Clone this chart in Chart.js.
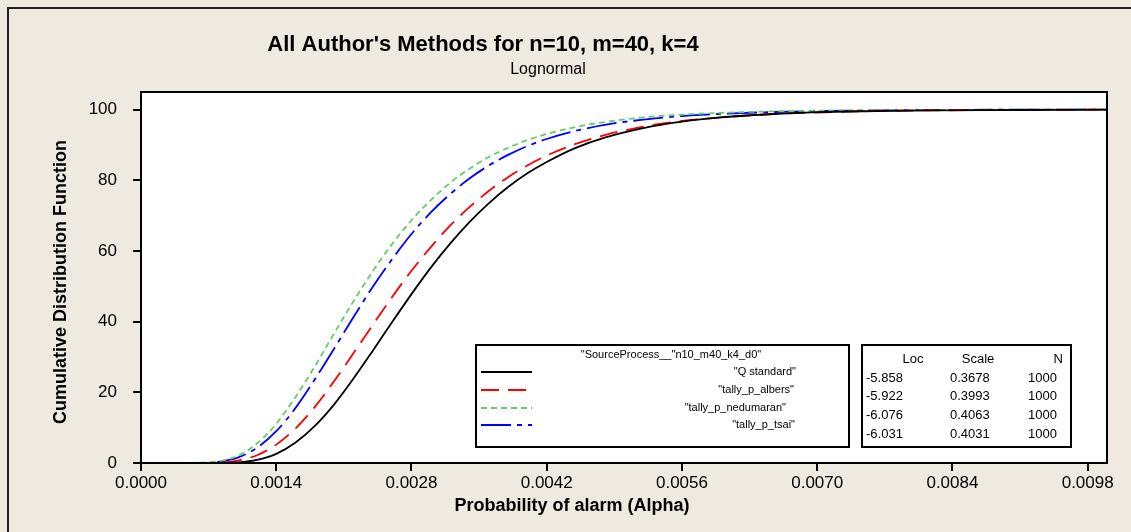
<!DOCTYPE html>
<html><head><meta charset="utf-8">
<script src="https://cdn.jsdelivr.net/npm/chart.js@4/dist/chart.umd.min.js"></script>
<style>html,body{margin:0;padding:0;background:#EEEAE0;overflow:hidden}canvas{display:block}</style>
</head><body>
<canvas id="c" width="1131" height="532"></canvas>
<script>
// ---- data ----
const alphaValues = [0.0003,0.0006,0.0008,0.0010,0.0012,0.0014,0.0016,0.0018,0.0020,0.0022,0.0024,0.0026,0.0028,0.0030,0.0032,0.0034,0.0036,0.0038,0.0040,0.0042,0.0045,0.0048,0.0052,0.0056,0.0060,0.0065,0.0070,0.0076,0.0082,0.0090,0.0100];
const qStandard   = [0,0,0,0.2,0.9,2.6,5.8,10.5,16.6,23.9,31.8,39.9,47.8,55.3,62.1,68.2,73.5,78.1,82.0,85.2,89.2,92.1,94.8,96.6,97.8,98.7,99.3,99.6,99.8,99.9,100];
const tallyAlbers = [0,0,0.1,0.7,2.2,5.2,9.8,15.9,23.2,31.1,39.1,47.0,54.4,61.1,67.2,72.4,77.0,80.9,84.2,87.0,90.3,92.8,95.2,96.8,97.8,98.7,99.2,99.6,99.8,99.9,100];
const tallyNedumaran = [0,0.1,0.5,2.0,5.5,11.1,18.7,27.4,36.7,45.8,54.3,62.0,68.7,74.4,79.3,83.3,86.6,89.2,91.4,93.1,95.1,96.5,97.8,98.6,99.1,99.5,99.7,99.8,99.9,100,100];
const tallyTsai   = [0,0,0.3,1.5,4.3,9.0,15.6,23.7,32.4,41.3,49.9,57.7,64.8,70.9,76.1,80.5,84.2,87.2,89.7,91.7,94.0,95.7,97.2,98.2,98.8,99.3,99.6,99.8,99.9,100,100];
const xTickValues = [0,0.0014,0.0028,0.0042,0.0056,0.0070,0.0084,0.0098];
const yTickValues = [0,20,40,60,80,100];
const seriesNames = ['"Q standard"','"tally_p_albers"','"tally_p_nedumaran"','"tally_p_tsai"'];
const legendHeader = '"SourceProcess__"n10_m40_k4_d0"';
const fitLoc   = ['-5.858','-5.922','-6.076','-6.031'];
const fitScale = ['0.3678','0.3993','0.4063','0.4031'];
const fitN     = ['1000','1000','1000','1000'];
const titleText = "All Author's Methods for n=10, m=40, k=4";
const subtitleText = 'Lognormal';
const xTitle = 'Probability of alarm (Alpha)';
const yTitle = 'Cumulative Distribution Function';

const FONT = '"Liberation Sans", Arial, sans-serif';
const colors = ['#000000','#FF0000','#66CC66','#0000FF'];
const dashes = [[],[18,9],[6,4],[30,6,5,6]];
const seriesValues = [qStandard, tallyAlbers, tallyNedumaran, tallyTsai];

function pts(ys){ return alphaValues.map((x,i)=>({x:x,y:ys[i]})); }

const datasets = seriesValues.map((ys,i)=>({
  label: seriesNames[i],
  data: pts(ys),
  showLine: true,
  borderColor: colors[i],
  borderWidth: 1.8,
  borderDash: dashes[i],
  pointRadius: 0,
  cubicInterpolationMode: 'monotone',
  fill: false
}));

const decor = {
  id: 'decor',
  beforeDraw(chart){
    const ctx = chart.ctx, a = chart.chartArea;
    ctx.save();
    ctx.fillStyle = '#EEEAE0';
    ctx.fillRect(0,0,chart.width,chart.height);
    ctx.fillStyle = '#FFFFFF';
    ctx.fillRect(a.left,a.top,a.right-a.left,a.bottom-a.top);
    ctx.strokeStyle = '#222';
    ctx.lineWidth = 2;
    ctx.beginPath();
    ctx.moveTo(8,532); ctx.lineTo(8,8); ctx.lineTo(1131,8);
    ctx.stroke();
    ctx.restore();
  },
  afterDraw(chart){
    const ctx = chart.ctx, a = chart.chartArea;
    ctx.save();
    ctx.strokeStyle = '#000';
    ctx.lineWidth = 2;
    ctx.strokeRect(a.left, a.top, a.right-a.left, a.bottom-a.top);
    ctx.fillStyle = '#000';
    ctx.textBaseline = 'middle';
    ctx.textAlign = 'center';
    ctx.font = 'bold 22px ' + FONT;
    ctx.fillText(titleText, 483, 45);
    ctx.font = '16px ' + FONT;
    ctx.fillText(subtitleText, 548, 70);
    ctx.font = 'bold 18px ' + FONT;
    ctx.fillText(xTitle, 572, 506);
    ctx.save();
    ctx.translate(61, 282);
    ctx.rotate(-Math.PI/2);
    ctx.fillText(yTitle, 0, 0);
    ctx.restore();

    const lx=476, ly=345, lw=373, lh=102;
    ctx.fillStyle='#FFFFFF';
    ctx.fillRect(lx,ly,lw,lh);
    ctx.lineWidth=2; ctx.strokeStyle='#000';
    ctx.strokeRect(lx,ly,lw,lh);
    ctx.fillStyle='#000';
    ctx.font='11px ' + FONT;
    ctx.textAlign='center';
    ctx.fillText(legendHeader, 671, 355);
    const rowY=[372,390,408,425];
    const rowRight=[796,794,786,795];
    for(let i=0;i<4;i++){
      ctx.save();
      ctx.strokeStyle=colors[i]; ctx.lineWidth=2; ctx.setLineDash(dashes[i]);
      ctx.beginPath(); ctx.moveTo(481,rowY[i]); ctx.lineTo(532,rowY[i]); ctx.stroke();
      ctx.restore();
      ctx.textAlign='right';
      ctx.fillText(seriesNames[i], rowRight[i], rowY[i]);
    }
    const tx=862, ty=345, tw=209, th=102;
    ctx.fillStyle='#FFFFFF';
    ctx.fillRect(tx,ty,tw,th);
    ctx.strokeRect(tx,ty,tw,th);
    ctx.fillStyle='#000';
    ctx.font='13px ' + FONT;
    ctx.textAlign='center';
    ctx.fillText('Loc', 913, 359);
    ctx.fillText('Scale', 978, 359);
    ctx.textAlign='right';
    ctx.fillText('N', 1063, 359);
    const tRows=[378,396,415,434];
    ctx.textAlign='left';
    for(let i=0;i<4;i++){
      ctx.fillText(fitLoc[i], 866, tRows[i]);
      ctx.fillText(fitScale[i], 950, tRows[i]);
      ctx.fillText(fitN[i], 1028, tRows[i]);
    }
    ctx.restore();
  }
};

new Chart(document.getElementById('c'), {
  type: 'scatter',
  data: { datasets },
  options: {
    responsive: false,
    animation: false,
    devicePixelRatio: 1,
    layout: { padding: { left: 0, top: 92, right: 24, bottom: 0 } },
    plugins: { legend: { display: false }, tooltip: { enabled: false }, title: { display: false } },
    scales: {
      x: {
        type: 'linear', min: 0, max: 0.0100,
        afterFit(s){ s.height = 69; },
        afterBuildTicks(s){ s.ticks = xTickValues.map(v=>({value:v})); },
        ticks: { color:'#000', font:{family:FONT,size:17}, padding:2, maxRotation:0, autoSkip:false,
                 callback:(v)=>Number(v).toFixed(4) },
        grid: { display:true, drawOnChartArea:false, drawTicks:true, tickLength:8, color:'#000', lineWidth:2 },
        border: { display:true, color:'#000', width:2 }
      },
      y: {
        type: 'linear', min: 0, max: 105,
        afterFit(s){ s.width = 141; },
        afterBuildTicks(s){ s.ticks = yTickValues.map(v=>({value:v})); },
        ticks: { color:'#000', font:{family:FONT,size:17}, padding:16, autoSkip:false,
                 callback:(v)=>String(v) },
        grid: { display:true, drawOnChartArea:false, drawTicks:true, tickLength:8, color:'#000', lineWidth:2 },
        border: { display:true, color:'#000', width:2 }
      }
    }
  },
  plugins: [decor]
});
</script>
</body></html>
